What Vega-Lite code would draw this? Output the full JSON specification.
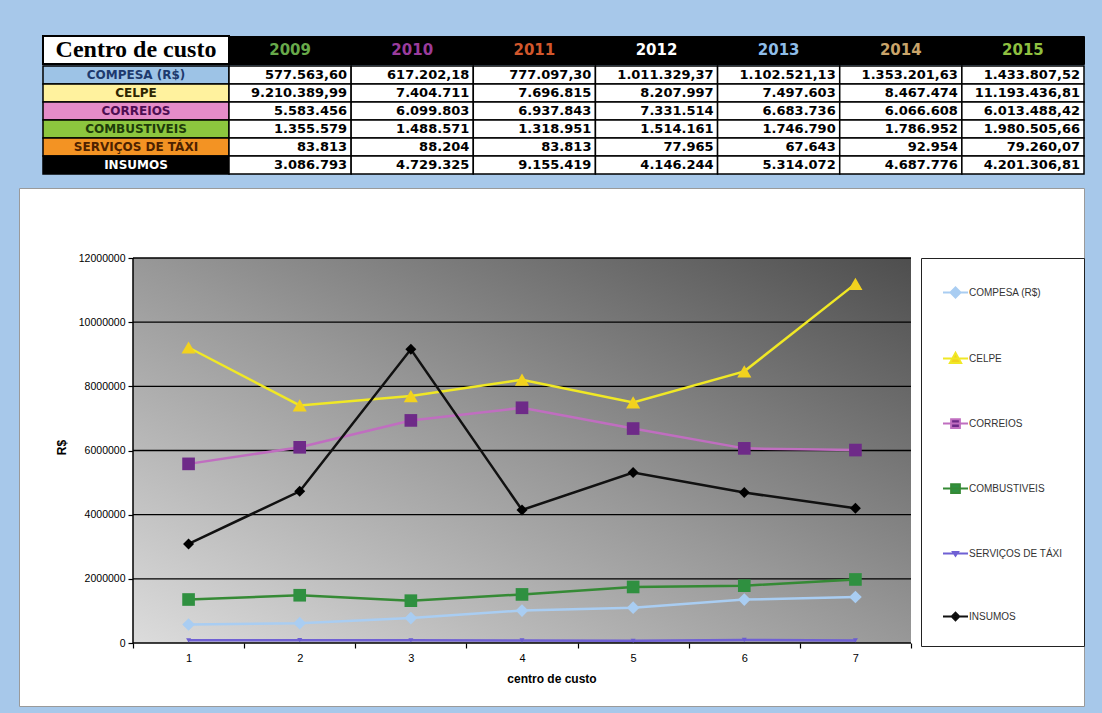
{
  "$schema": "https://vega.github.io/schema/vega-lite/v6.json",
  "background": "#a7c8ea",
  "padding": {"left": 18, "top": 35, "right": 19, "bottom": 7},
  "datasets": {
    "d": [
      {"s": "COMPESA (R$)", "i": 1, "y": 2009, "v": 577563.60, "t": "577.563,60"},
      {"s": "COMPESA (R$)", "i": 2, "y": 2010, "v": 617202.18, "t": "617.202,18"},
      {"s": "COMPESA (R$)", "i": 3, "y": 2011, "v": 777097.30, "t": "777.097,30"},
      {"s": "COMPESA (R$)", "i": 4, "y": 2012, "v": 1011329.37, "t": "1.011.329,37"},
      {"s": "COMPESA (R$)", "i": 5, "y": 2013, "v": 1102521.13, "t": "1.102.521,13"},
      {"s": "COMPESA (R$)", "i": 6, "y": 2014, "v": 1353201.63, "t": "1.353.201,63"},
      {"s": "COMPESA (R$)", "i": 7, "y": 2015, "v": 1433807.52, "t": "1.433.807,52"},
      {"s": "CELPE", "i": 1, "y": 2009, "v": 9210389.99, "t": "9.210.389,99"},
      {"s": "CELPE", "i": 2, "y": 2010, "v": 7404711, "t": "7.404.711"},
      {"s": "CELPE", "i": 3, "y": 2011, "v": 7696815, "t": "7.696.815"},
      {"s": "CELPE", "i": 4, "y": 2012, "v": 8207997, "t": "8.207.997"},
      {"s": "CELPE", "i": 5, "y": 2013, "v": 7497603, "t": "7.497.603"},
      {"s": "CELPE", "i": 6, "y": 2014, "v": 8467474, "t": "8.467.474"},
      {"s": "CELPE", "i": 7, "y": 2015, "v": 11193436.81, "t": "11.193.436,81"},
      {"s": "CORREIOS", "i": 1, "y": 2009, "v": 5583456, "t": "5.583.456"},
      {"s": "CORREIOS", "i": 2, "y": 2010, "v": 6099803, "t": "6.099.803"},
      {"s": "CORREIOS", "i": 3, "y": 2011, "v": 6937843, "t": "6.937.843"},
      {"s": "CORREIOS", "i": 4, "y": 2012, "v": 7331514, "t": "7.331.514"},
      {"s": "CORREIOS", "i": 5, "y": 2013, "v": 6683736, "t": "6.683.736"},
      {"s": "CORREIOS", "i": 6, "y": 2014, "v": 6066608, "t": "6.066.608"},
      {"s": "CORREIOS", "i": 7, "y": 2015, "v": 6013488.42, "t": "6.013.488,42"},
      {"s": "COMBUSTIVEIS", "i": 1, "y": 2009, "v": 1355579, "t": "1.355.579"},
      {"s": "COMBUSTIVEIS", "i": 2, "y": 2010, "v": 1488571, "t": "1.488.571"},
      {"s": "COMBUSTIVEIS", "i": 3, "y": 2011, "v": 1318951, "t": "1.318.951"},
      {"s": "COMBUSTIVEIS", "i": 4, "y": 2012, "v": 1514161, "t": "1.514.161"},
      {"s": "COMBUSTIVEIS", "i": 5, "y": 2013, "v": 1746790, "t": "1.746.790"},
      {"s": "COMBUSTIVEIS", "i": 6, "y": 2014, "v": 1786952, "t": "1.786.952"},
      {"s": "COMBUSTIVEIS", "i": 7, "y": 2015, "v": 1980505.66, "t": "1.980.505,66"},
      {"s": "SERVIÇOS DE TÁXI", "i": 1, "y": 2009, "v": 83813, "t": "83.813"},
      {"s": "SERVIÇOS DE TÁXI", "i": 2, "y": 2010, "v": 88204, "t": "88.204"},
      {"s": "SERVIÇOS DE TÁXI", "i": 3, "y": 2011, "v": 83813, "t": "83.813"},
      {"s": "SERVIÇOS DE TÁXI", "i": 4, "y": 2012, "v": 77965, "t": "77.965"},
      {"s": "SERVIÇOS DE TÁXI", "i": 5, "y": 2013, "v": 67643, "t": "67.643"},
      {"s": "SERVIÇOS DE TÁXI", "i": 6, "y": 2014, "v": 92954, "t": "92.954"},
      {"s": "SERVIÇOS DE TÁXI", "i": 7, "y": 2015, "v": 79260.07, "t": "79.260,07"},
      {"s": "INSUMOS", "i": 1, "y": 2009, "v": 3086793, "t": "3.086.793"},
      {"s": "INSUMOS", "i": 2, "y": 2010, "v": 4729325, "t": "4.729.325"},
      {"s": "INSUMOS", "i": 3, "y": 2011, "v": 9155419, "t": "9.155.419"},
      {"s": "INSUMOS", "i": 4, "y": 2012, "v": 4146244, "t": "4.146.244"},
      {"s": "INSUMOS", "i": 5, "y": 2013, "v": 5314072, "t": "5.314.072"},
      {"s": "INSUMOS", "i": 6, "y": 2014, "v": 4687776, "t": "4.687.776"},
      {"s": "INSUMOS", "i": 7, "y": 2015, "v": 4201306.81, "t": "4.201.306,81"}
    ]
  },
  "spacing": 12,
  "resolve": {
    "scale": {"x": "independent", "y": "independent", "color": "independent", "fill": "independent", "stroke": "independent", "shape": "independent", "size": "independent"},
    "legend": {"color": "independent", "fill": "independent", "stroke": "independent", "shape": "independent", "size": "independent"}
  },
  "vconcat": [
    {
      "spacing": 0,
      "resolve": {
        "scale": {"x": "independent", "y": "independent", "color": "independent", "fill": "independent"}
      },
      "vconcat": [
        {
          "spacing": 0,
          "bounds": "flush",
          "resolve": {
            "scale": {"x": "independent", "y": "independent", "color": "independent", "fill": "independent"}
          },
          "hconcat": [
            {
              "width": 210,
              "height": 28,
              "data": {"values": [{"h": "Centro de custo"}]},
              "encoding": {
                "x": {"field": "h", "type": "nominal", "scale": {"paddingInner": 0, "paddingOuter": 0.0645, "align": 1}, "axis": null}
              },
              "layer": [
                {"mark": {"type": "rect", "fill": "white", "stroke": "black", "strokeWidth": 2}},
                {
                  "mark": {"type": "text", "font": "Liberation Serif", "fontSize": 24, "fontWeight": "bold", "color": "black"},
                  "encoding": {"text": {"field": "h"}}
                }
              ]
            },
            {
              "width": 855,
              "height": 28,
              "view": {"fill": "black", "stroke": "black"},
              "data": {"name": "d"},
              "transform": [{"aggregate": [{"op": "count", "as": "n"}], "groupby": ["y"]}],
              "mark": {"type": "text", "font": "DejaVu Sans", "fontSize": 15, "fontWeight": "bold"},
              "encoding": {
                "x": {"field": "y", "type": "ordinal", "scale": {"paddingInner": 0, "paddingOuter": 0}, "axis": null},
                "text": {"field": "y", "type": "ordinal"},
                "color": {
                  "field": "y", "type": "ordinal",
                  "scale": {"range": ["#67a94a", "#9a3c9c", "#d2572c", "#ffffff", "#8fbde8", "#c9a46a", "#8fc040"]},
                  "legend": null
                }
              }
            }
          ]
        },
        {
          "spacing": 0,
          "bounds": "flush",
          "resolve": {
            "scale": {"x": "independent", "y": "independent", "color": "independent", "fill": "independent"}
          },
          "hconcat": [
            {
              "width": 210,
              "height": 108,
              "data": {"name": "d"},
              "transform": [{"aggregate": [{"op": "count", "as": "n"}], "groupby": ["s"]}],
              "encoding": {
                "x": {"datum": "c", "type": "nominal", "scale": {"domain": ["c"], "paddingInner": 0, "paddingOuter": 0.0645, "align": 1}, "axis": null},
                "y": {"field": "s", "type": "nominal", "scale": {"domain": ["COMPESA (R$)", "CELPE", "CORREIOS", "COMBUSTIVEIS", "SERVIÇOS DE TÁXI", "INSUMOS"], "paddingInner": 0, "paddingOuter": 0}, "axis": null}
              },
              "layer": [
                {
                  "mark": {"type": "rect", "stroke": "black", "strokeWidth": 1.5},
                  "encoding": {
                    "fill": {
                      "field": "s", "type": "nominal",
                      "scale": {"domain": ["COMPESA (R$)", "CELPE", "CORREIOS", "COMBUSTIVEIS", "SERVIÇOS DE TÁXI", "INSUMOS"], "range": ["#9dc3e6", "#fff29e", "#e58cc8", "#8cc63e", "#f39323", "#000000"]},
                      "legend": null
                    }
                  }
                },
                {
                  "mark": {"type": "text", "font": "DejaVu Sans", "fontSize": 12, "fontWeight": "bold"},
                  "encoding": {
                    "text": {"field": "s"},
                    "color": {
                      "field": "s", "type": "nominal",
                      "scale": {"domain": ["COMPESA (R$)", "CELPE", "CORREIOS", "COMBUSTIVEIS", "SERVIÇOS DE TÁXI", "INSUMOS"], "range": ["#1d3a6e", "#2e2600", "#4e0e52", "#1e3b0a", "#4e2200", "#ffffff"]},
                      "legend": null
                    }
                  }
                }
              ]
            },
            {
              "width": 855,
              "height": 108,
              "data": {"name": "d"},
              "encoding": {
                "x": {"field": "y", "type": "ordinal", "scale": {"paddingInner": 0, "paddingOuter": 0}, "axis": null},
                "y": {"field": "s", "type": "nominal", "scale": {"domain": ["COMPESA (R$)", "CELPE", "CORREIOS", "COMBUSTIVEIS", "SERVIÇOS DE TÁXI", "INSUMOS"], "paddingInner": 0, "paddingOuter": 0}, "axis": null}
              },
              "layer": [
                {"mark": {"type": "rect", "fill": "white", "stroke": "black", "strokeWidth": 1.5}},
                {
                  "mark": {"type": "text", "align": "right", "dx": -4, "font": "DejaVu Sans", "fontSize": 13, "fontWeight": "bold", "color": "black"},
                  "encoding": {
                    "x": {"field": "y", "type": "ordinal", "bandPosition": 1, "axis": null},
                    "text": {"field": "t"}
                  }
                }
              ]
            }
          ]
        }
      ]
    },
    {
      "width": 1065,
      "height": 518,
      "view": {"fill": "white", "stroke": "#9a9a9a", "strokeWidth": 1},
      "resolve": {"axis": {"x": "independent"}},
      "layer": [
        {
          "data": {"values": [{}]},
          "mark": {
            "type": "rect",
            "fill": {
              "gradient": "linear", "x1": 0, "y1": 1, "x2": 1, "y2": 0,
              "stops": [
                {"offset": 0, "color": "#dcdcdc"},
                {"offset": 0.5, "color": "#989898"},
                {"offset": 1, "color": "#4e4e4e"}
              ]
            }
          },
          "encoding": {
            "x": {
              "datum": 0.5, "type": "quantitative",
              "scale": {"domain": [-0.5257, 9.0566], "nice": false, "zero": false},
              "axis": {
                "orient": "bottom",
                "values": [1, 2, 3, 4, 5, 6, 7], "offset": -63, "domain": false, "ticks": false,
                "labelPadding": 9, "labelFont": "Liberation Sans", "labelFontSize": 11, "labelColor": "black",
                "title": "centro de custo", "titleFont": "Liberation Sans", "titleFontSize": 12, "titleFontWeight": "bold", "titleColor": "black", "titlePadding": 10
              }
            },
            "x2": {"datum": 7.5},
            "y": {
              "datum": 0, "type": "quantitative",
              "scale": {"domain": [-1963636, 14181818], "nice": false, "zero": false},
              "axis": {
                "values": [0, 2000000, 4000000, 6000000, 8000000, 10000000, 12000000], "format": "d",
                "offset": -114, "domain": false, "tickSize": 5, "tickColor": "black", "tickWidth": 1.2,
                "labelPadding": 3, "labelFont": "Liberation Sans", "labelFontSize": 10.5, "labelColor": "black",
                "title": "R$", "titleFont": "Liberation Sans", "titleFontSize": 12, "titleFontWeight": "bold", "titleColor": "black", "titlePadding": 10
              }
            },
            "y2": {"datum": 12000000}
          }
        },
        {
          "data": {"values": [{"g": 0}, {"g": 2000000}, {"g": 4000000}, {"g": 6000000}, {"g": 8000000}, {"g": 10000000}, {"g": 12000000}]},
          "mark": {"type": "rule", "color": "black", "strokeWidth": 1.3},
          "encoding": {
            "x": {
              "datum": 0.5, "type": "quantitative",
              "axis": {
                "orient": "bottom",
                "values": [0.5, 1.5, 2.5, 3.5, 4.5, 5.5, 6.5, 7.5], "offset": -63, "domain": false, "labels": false,
                "ticks": true, "tickSize": 5, "tickColor": "black", "tickWidth": 1.2, "title": null
              }
            },
            "x2": {"datum": 7.5},
            "y": {"field": "g", "type": "quantitative"}
          }
        },
        {
          "data": {"values": [{}]},
          "mark": {"type": "rule", "color": "black", "strokeWidth": 1.5},
          "encoding": {
            "x": {"datum": 0.5, "type": "quantitative", "axis": null},
            "y": {"datum": 0, "type": "quantitative"},
            "y2": {"datum": 12000000}
          }
        },
        {
          "data": {"name": "d"},
          "mark": {"type": "line", "strokeWidth": 2.5},
          "encoding": {
            "x": {"field": "i", "type": "quantitative", "axis": null},
            "y": {"field": "v", "type": "quantitative"},
            "stroke": {
              "field": "s", "type": "nominal",
              "scale": {"domain": ["COMPESA (R$)", "CELPE", "CORREIOS", "COMBUSTIVEIS", "SERVIÇOS DE TÁXI", "INSUMOS"], "range": ["#a9cdf2", "#f0e825", "#c06ec0", "#358a35", "#6f60d4", "#111111"]},
              "legend": {
                "orient": "none", "legendX": 902, "legendY": 70, "title": null,
                "padding": 21, "rowPadding": 43, "strokeColor": "#222222", "fillColor": "white",
                "labelFont": "Liberation Sans", "labelFontSize": 10, "labelColor": "#333333", "labelOffset": 0,
                "symbolSize": 625, "symbolStrokeWidth": 2,
                "encode": {
                  "symbols": {
                    "update": {
                      "shape": {"signal": "datum.value === 'CELPE' ? 'M-1,0H1M-0.45,0.35L0,-0.45L0.45,0.35Z' : (datum.value === 'CORREIOS' || datum.value === 'COMBUSTIVEIS') ? 'M-1,0H1M-0.35,-0.35H0.35V0.35H-0.35Z' : datum.value === 'SERVIÇOS DE TÁXI' ? 'M-1,0H1M-0.2,-0.12H0.2L0,0.18Z' : datum.value === 'INSUMOS' ? 'M-1,0H1M-0.3,0L0,-0.3L0.3,0L0,0.3Z' : 'M-1,0H1M-0.4,0L0,-0.4L0.4,0L0,0.4Z'"},
                      "size": {"value": 625},
                      "fill": {"signal": "datum.value === 'COMPESA (R$)' ? '#a9cdf2' : datum.value === 'CELPE' ? '#f2d21e' : datum.value === 'CORREIOS' ? '#6e2a88' : datum.value === 'COMBUSTIVEIS' ? '#2f9040' : datum.value === 'SERVIÇOS DE TÁXI' ? '#c5cad6' : '#000000'"},
                      "stroke": {"signal": "datum.value === 'COMPESA (R$)' ? '#a9cdf2' : datum.value === 'CELPE' ? '#f0e825' : datum.value === 'CORREIOS' ? '#8a3a9a' : datum.value === 'COMBUSTIVEIS' ? '#358a35' : datum.value === 'SERVIÇOS DE TÁXI' ? '#c5cad6' : '#111111'"},
                      "strokeWidth": {"value": 2}
                    }
                  }
                }
              }
            }
          }
        },
        {
          "data": {"name": "d"},
          "mark": {"type": "point", "filled": true, "opacity": 1, "strokeWidth": 0},
          "encoding": {
            "x": {"field": "i", "type": "quantitative", "axis": null},
            "y": {"field": "v", "type": "quantitative"},
            "fill": {
              "field": "s", "type": "nominal",
              "scale": {"domain": ["INSUMOS", "SERVIÇOS DE TÁXI", "COMBUSTIVEIS", "CORREIOS", "CELPE", "COMPESA (R$)"], "range": ["#000000", "#6a5cd0", "#2f9040", "#6e2a88", "#f2d21e", "#a9cdf2"]},
              "legend": null
            },
            "shape": {
              "field": "s", "type": "nominal",
              "scale": {"domain": ["INSUMOS", "SERVIÇOS DE TÁXI", "COMBUSTIVEIS", "CORREIOS", "CELPE", "COMPESA (R$)"], "range": ["diamond", "triangle-down", "square", "square", "triangle-up", "diamond"]},
              "legend": null
            },
            "size": {
              "field": "s", "type": "nominal",
              "scale": {"type": "ordinal", "domain": ["INSUMOS", "SERVIÇOS DE TÁXI", "COMBUSTIVEIS", "CORREIOS", "CELPE", "COMPESA (R$)"], "range": [120, 25, 160, 160, 200, 160]},
              "legend": null
            }
          }
        }
      ]
    }
  ],
  "config": {
    "view": {"stroke": null},
    "axis": {"grid": false}
  }
}
